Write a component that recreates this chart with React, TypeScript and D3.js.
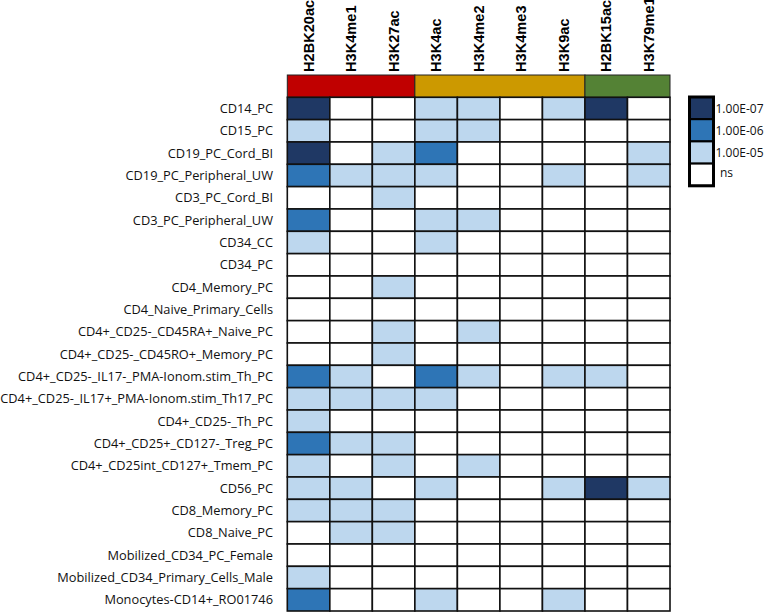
import React from "react";
import * as d3 from "d3";

const marks = ["H2BK20ac", "H3K4me1", "H3K27ac", "H3K4ac", "H3K4me2", "H3K4me3", "H3K9ac", "H2BK15ac", "H3K79me1"];
const groups = [
  { start: 0, end: 3, color: "#c00000" },
  { start: 3, end: 7, color: "#cc9900" },
  { start: 7, end: 9, color: "#548235" },
];
const cellTypes = [
  "CD14_PC",
  "CD15_PC",
  "CD19_PC_Cord_BI",
  "CD19_PC_Peripheral_UW",
  "CD3_PC_Cord_BI",
  "CD3_PC_Peripheral_UW",
  "CD34_CC",
  "CD34_PC",
  "CD4_Memory_PC",
  "CD4_Naive_Primary_Cells",
  "CD4+_CD25-_CD45RA+_Naive_PC",
  "CD4+_CD25-_CD45RO+_Memory_PC",
  "CD4+_CD25-_IL17-_PMA-Ionom.stim_Th_PC",
  "CD4+_CD25-_IL17+_PMA-Ionom.stim_Th17_PC",
  "CD4+_CD25-_Th_PC",
  "CD4+_CD25+_CD127-_Treg_PC",
  "CD4+_CD25int_CD127+_Tmem_PC",
  "CD56_PC",
  "CD8_Memory_PC",
  "CD8_Naive_PC",
  "Mobilized_CD34_PC_Female",
  "Mobilized_CD34_Primary_Cells_Male",
  "Monocytes-CD14+_RO01746",
];
// significance level: 0 = ns, 1 = 1e-5, 2 = 1e-6, 3 = 1e-7
const levels = [
  [3, 0, 0, 1, 1, 0, 1, 3, 0],
  [1, 0, 0, 1, 1, 0, 0, 0, 0],
  [3, 0, 1, 2, 0, 0, 0, 0, 1],
  [2, 1, 1, 1, 0, 0, 1, 0, 1],
  [0, 0, 1, 0, 0, 0, 0, 0, 0],
  [2, 0, 0, 1, 1, 0, 0, 0, 0],
  [1, 0, 0, 1, 0, 0, 0, 0, 0],
  [0, 0, 0, 0, 0, 0, 0, 0, 0],
  [0, 0, 1, 0, 0, 0, 0, 0, 0],
  [0, 0, 0, 0, 0, 0, 0, 0, 0],
  [0, 0, 1, 0, 1, 0, 0, 0, 0],
  [0, 0, 1, 0, 0, 0, 0, 0, 0],
  [2, 1, 0, 2, 1, 0, 1, 1, 0],
  [1, 1, 1, 1, 0, 0, 0, 0, 0],
  [1, 0, 0, 0, 0, 0, 0, 0, 0],
  [2, 1, 1, 0, 0, 0, 0, 0, 0],
  [1, 0, 1, 0, 1, 0, 0, 0, 0],
  [1, 1, 0, 1, 0, 0, 1, 3, 1],
  [1, 1, 1, 0, 0, 0, 0, 0, 0],
  [0, 1, 1, 0, 0, 0, 0, 0, 0],
  [0, 0, 0, 0, 0, 0, 0, 0, 0],
  [1, 0, 0, 0, 0, 0, 0, 0, 0],
  [2, 0, 0, 1, 0, 0, 1, 0, 0],
];
const legendLabels = ["1.00E-07", "1.00E-06", "1.00E-05", "ns"];
const legendLevels = [3, 2, 1, 0];
const palette = ["#ffffff", "#bdd7ee", "#2e75b6", "#1f3864"];

const W = 767;
const H = 612;
const gridLeft = 287.3;
const gridRight = 670;
const barTop = 75;
const gridTop = 97.3;
const gridBottom = 611;

export default function App() {
  const x = d3.scaleBand<number>().domain(d3.range(marks.length)).range([gridLeft, gridRight]);
  const y = d3.scaleBand<number>().domain(d3.range(cellTypes.length)).range([gridTop, gridBottom]);
  const color = d3.scaleOrdinal<number, string>().domain([0, 1, 2, 3]).range(palette);
  const lx = 689.5;
  const lw = 24;
  const lh = 22.2;
  const ly = 97;

  return (
    <svg width={W} height={H} style={{ position: "absolute", left: 0, top: 0, background: "#fff" }}>
      {marks.map((m, i) => {
        const cx = (x(i) as number) + x.bandwidth() / 2 + 5.2;
        return (
          <text
            key={m}
            transform={`translate(${cx},${72}) rotate(-90)`}
            fontFamily="Liberation Sans, Arial, sans-serif"
            fontWeight="bold"
            fontSize={14.6}
            fill="#000"
          >
            {m}
          </text>
        );
      })}
      {groups.map((g, i) => (
        <rect
          key={i}
          x={x(g.start) as number}
          y={barTop}
          width={(x(g.end - 1) as number) + x.bandwidth() - (x(g.start) as number)}
          height={gridTop - barTop}
          fill={g.color}
          stroke="#222"
          strokeWidth={1}
        />
      ))}
      {levels.map((row, r) =>
        row.map((v, c) => (
          <rect
            key={`${r}-${c}`}
            x={x(c) as number}
            y={y(r) as number}
            width={x.bandwidth()}
            height={y.bandwidth()}
            fill={color(v)}
            stroke="#111"
            strokeWidth={1.6}
          />
        ))
      )}
      {cellTypes.map((t, r) => (
        <text
          key={t}
          x={273}
          y={(y(r) as number) + y.bandwidth() / 2 + 4.6}
          textAnchor="end"
          fontFamily="Open Sans, sans-serif"
          fontSize={12.8}
          fill="#111"
        >
          {t}
        </text>
      ))}
      <g>
        {legendLevels.map((lv, i) => (
          <rect
            key={i}
            x={lx}
            y={ly + i * lh}
            width={lw}
            height={lh}
            fill={color(lv)}
            stroke="#000"
            strokeWidth={2}
          />
        ))}
        <rect x={lx} y={ly} width={lw} height={lh * 4} fill="none" stroke="#000" strokeWidth={3} />
        {legendLabels.map((l, i) => (
          <text
            key={l}
            x={l === "ns" ? 720 : 715.5}
            y={ly + i * lh + lh / 2 + 4.5 - (l === "ns" ? 2 : 0)}
            fontFamily="Open Sans, sans-serif"
            fontSize={12}
            fill="#111"
          >
            {l}
          </text>
        ))}
      </g>
    </svg>
  );
}
